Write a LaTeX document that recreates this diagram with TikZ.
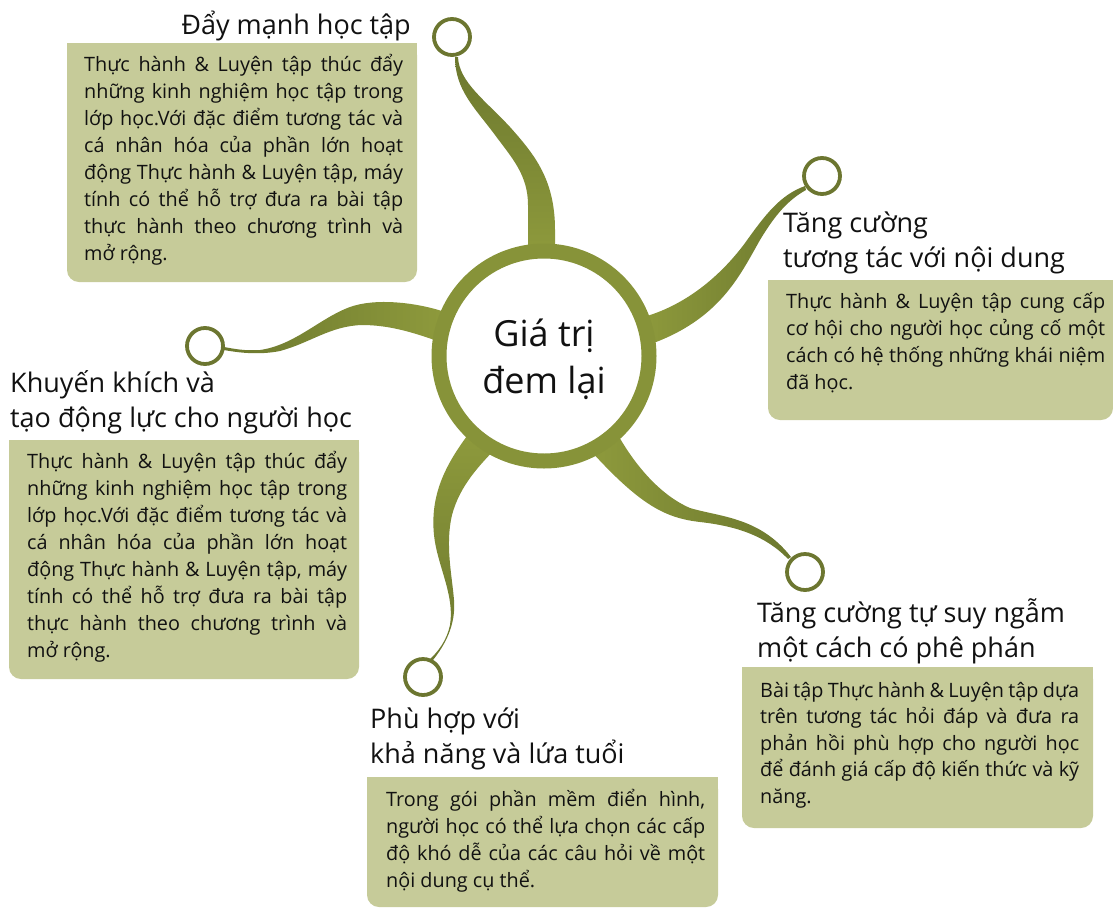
\documentclass[tikz,border=0pt]{standalone}
\usepackage{fontspec}
\setmainfont{Open Sans}
\definecolor{boxc}{RGB}{198,203,153}
\definecolor{ringc}{RGB}{135,147,57}
\definecolor{tlight}{RGB}{142,154,60}
\definecolor{tdark}{RGB}{108,120,46}
\definecolor{knobc}{RGB}{108,118,48}
\definecolor{txt}{RGB}{17,17,17}
\newcommand\jline[1]{\makebox[\linewidth][s]{#1}\\}
\newcommand\bodyfont{\fontsize{19.8}{27}\selectfont}
\tikzset{
  boxbg/.style={fill=boxc},
  head/.style={inner sep=0pt, text=txt},
  bodytxt/.style={inner sep=0pt, text=txt},
  knob/.style={circle, draw=knobc, line width=3.8pt, fill=white, minimum size=36pt, inner sep=0pt},
  hub/.style={circle, draw=ringc, line width=15pt, fill=white, minimum size=210pt, inner sep=0pt},
  tent/.style={draw=none}
}
\begin{document}
\begin{tikzpicture}[x=1pt,y=-1pt]
\useasboundingbox (0,0) rectangle (1113,908);
% boxes
\fill[boxbg, rounded corners=12pt] (67,43) rectangle (417,282);
\fill[boxbg] (67,43) rectangle (417,100);
\fill[boxbg, rounded corners=12pt] (768,280) rectangle (1113,420);
\fill[boxbg] (768,280) rectangle (1113,330);
\fill[boxbg, rounded corners=12pt] (9,440) rectangle (359,679);
\fill[boxbg] (9,440) rectangle (359,500);
\fill[boxbg, rounded corners=12pt] (367,777) rectangle (718,907);
\fill[boxbg] (367,777) rectangle (718,830);
\fill[boxbg, rounded corners=12pt] (742,667) rectangle (1093,828);
\fill[boxbg] (742,667) rectangle (1093,720);
% tentacles
\shade[tent, top color=tdark, bottom color=tlight]
  (528,255) -- (528,205) .. controls (528,175) and (512,158) .. (495,135)
  .. controls (475,108) and (455,90) .. (455,57) -- (458,57)
  .. controls (459,82) and (485,100) .. (510,127)
  .. controls (535,155) and (555,180) .. (555,230) -- (555,255) -- cycle;
\shade[tent, left color=tlight, right color=tdark]
  (640,318) .. controls (690,305) and (725,270) .. (745,243)
  .. controls (765,215) and (780,195) .. (805,186) -- (806,190)
  .. controls (788,200) and (775,215) .. (760,240)
  .. controls (740,275) and (720,320) .. (648,345) -- cycle;
\shade[tent, left color=tdark, right color=tlight]
  (445,312) .. controls (415,302) and (375,298) .. (350,307)
  .. controls (320,318) and (295,345) .. (260,350)
  .. controls (245,351) and (235,349) .. (224,347) -- (224,350)
  .. controls (240,353) and (260,355) .. (280,351)
  .. controls (310,343) and (330,326) .. (362,325)
  .. controls (390,325) and (415,333) .. (440,342) -- cycle;
\shade[tent, top color=tlight, bottom color=tdark]
  (470,432) .. controls (445,465) and (430,495) .. (434,535)
  .. controls (437,565) and (455,595) .. (450,625)
  .. controls (447,640) and (438,652) .. (429,660) -- (433,660)
  .. controls (445,645) and (456,625) .. (454,600)
  .. controls (452,575) and (445,545) .. (452,515)
  .. controls (460,485) and (480,465) .. (496,448) -- cycle;
\shade[tent, left color=tlight, right color=tdark]
  (618,435) .. controls (635,465) and (660,495) .. (690,508)
  .. controls (720,517) and (760,517) .. (791,557) -- (788,559)
  .. controls (765,535) and (735,526) .. (700,522)
  .. controls (665,518) and (640,505) .. (590,450) -- cycle;
% hub and knobs
\node[hub] (c) at (544,356) {};
\node[knob] (s1) at (452,37) {};
\node[knob] (s2) at (822,176) {};
\node[knob] (s3) at (205,346) {};
\node[knob] (s4) at (423,677) {};
\node[knob] (s5) at (805,572) {};
\node[head, anchor=base] (ct) at (544,346)
  {\parbox[t]{200pt}{\centering\fontsize{36}{47}\selectfont Giá trị\\đem lại}};
% headings
\newcommand\headfont{\fontsize{27}{35.5}\selectfont}
\node[head, anchor=base east] (h1) at (411,34) {\headfont Đẩy mạnh học tập};
\node[head, anchor=base west] (h2) at (783,232)
  {\parbox[t]{330pt}{\raggedright\headfont Tăng cường\\tương tác với nội dung}};
\node[head, anchor=base west] (h3) at (10,392)
  {\parbox[t]{360pt}{\raggedright\headfont Khuyến khích và\\tạo động lực cho người học}};
\node[head, anchor=base west] (h4) at (370,728)
  {\parbox[t]{330pt}{\raggedright\headfont Phù hợp với\\khả năng và lứa tuổi}};
\node[head, anchor=base west] (h5) at (757,622)
  {\parbox[t]{340pt}{\raggedright\headfont Tăng cường tự suy ngẫm\\một cách có phê phán}};
% bodies
\node[bodytxt, anchor=base west] (b1) at (84,71) {\parbox[t]{319pt}{\bodyfont
  \jline{Thực hành \& Luyện tập thúc đẩy}
  \jline{những kinh nghiệm học tập trong}
  \jline{lớp học.Với đặc điểm tương tác và}
  \jline{cá nhân hóa của phần lớn hoạt}
  \jline{động Thực hành \& Luyện tập, máy}
  \jline{tính có thể hỗ trợ đưa ra bài tập}
  \jline{thực hành theo chương trình và}
  mở rộng.}};
\node[bodytxt, anchor=base west] (b2) at (786,308) {\parbox[t]{319pt}{\bodyfont
  \jline{Thực hành \& Luyện tập cung cấp}
  \jline{cơ hội cho người học củng cố một}
  \jline{cách có hệ thống những khái niệm}
  đã học.}};
\node[bodytxt, anchor=base west] (b3) at (27,468) {\parbox[t]{320pt}{\bodyfont
  \jline{Thực hành \& Luyện tập thúc đẩy}
  \jline{những kinh nghiệm học tập trong}
  \jline{lớp học.Với đặc điểm tương tác và}
  \jline{cá nhân hóa của phần lớn hoạt}
  \jline{động Thực hành \& Luyện tập, máy}
  \jline{tính có thể hỗ trợ đưa ra bài tập}
  \jline{thực hành theo chương trình và}
  mở rộng.}};
\node[bodytxt, anchor=base west] (b4) at (386,806) {\parbox[t]{319pt}{\bodyfont
  \jline{Trong gói phần mềm điển hình,}
  \jline{người học có thể lựa chọn các cấp}
  \jline{độ khó dễ của các câu hỏi về một}
  nội dung cụ thể.}};
\node[bodytxt, anchor=base west] (b5) at (760,697) {\parbox[t]{319pt}{\fontsize{19.8}{26.5}\selectfont
  \jline{Bài tập Thực hành \& Luyện tập dựa}
  \jline{trên tương tác hỏi đáp và đưa ra}
  \jline{phản hồi phù hợp cho người học}
  \jline{để đánh giá cấp độ kiến thức và kỹ}
  năng.}};
\end{tikzpicture}
\end{document}
